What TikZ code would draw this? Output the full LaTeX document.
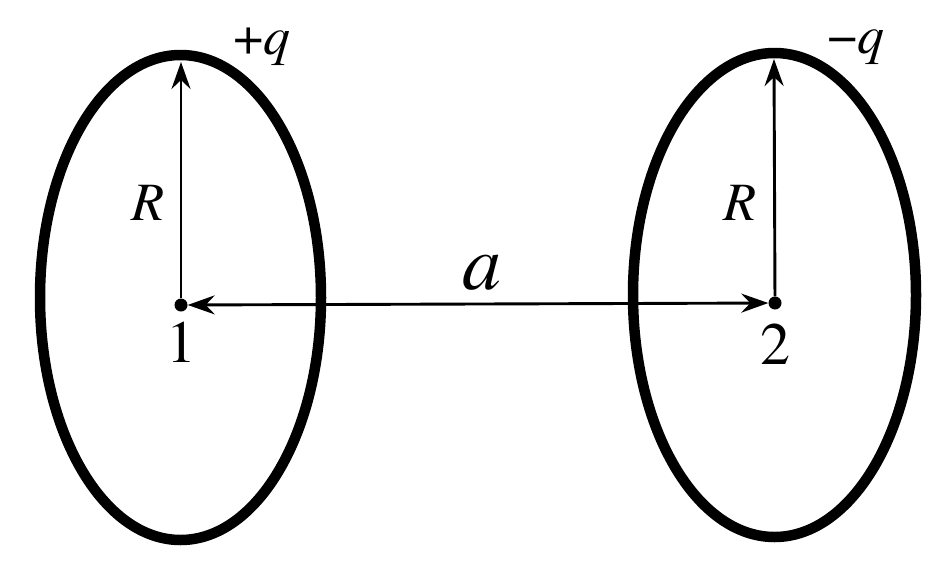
\documentclass[tikz,border=0pt]{standalone}
\usepackage{fontspec}
\setmainfont{texgyretermes}[Extension=.otf,UprightFont=*-regular,ItalicFont=*-italic,BoldFont=*-bold,BoldItalicFont=*-bolditalic]
\usetikzlibrary{arrows.meta}
\tikzset{
  ring/.style={line width=10.5pt},
  thin line/.style={line width=2.9pt},
  tip/.style={-{Stealth[length=27pt,width=19pt,inset=9pt]}},
  dot/.style={circle,fill=black,inner sep=0pt,minimum size=13pt},
  lbl/.style={inner sep=0pt,font=\fontsize{54}{64}\selectfont},
  num/.style={inner sep=0pt,font=\fontsize{60}{70}\selectfont},
}
\begin{document}
\begin{tikzpicture}[x=1pt,y=-1pt]
\useasboundingbox (0,0) rectangle (946,571);
% rings
\coordinate (c1) at (180.5,297.5);
\coordinate (c2) at (774.5,295);
\draw[ring] (c1) ellipse [x radius=140.5pt, y radius=242.5pt];
\draw[ring] (c2) ellipse [x radius=141.5pt, y radius=242pt];
% centres
\node[dot] (d1) at (181,305) {};
\node[dot] (d2) at (775,303) {};
\coordinate (t1) at (181,62);
\coordinate (t2) at (774,59);
% radii
\draw[thin line,tip] (d1) -- (t1);
\draw[thin line,tip] (d2) -- (t2);
% distance
\draw[thin line,{Stealth[length=27pt,width=19pt,inset=9pt]}-{Stealth[length=27pt,width=19pt,inset=9pt]}] (d1) -- (d2);
% labels
\node[lbl] (qp) at (262,47) {+\textit{q}};
\node[lbl] (qm) at (856,47) {\char"2212\textit{q}};
\node[lbl] (R1) at (148,203) {\textit{R}};
\node[lbl] (R2) at (740,203) {\textit{R}};
\node[inner sep=0pt,font=\fontsize{78}{86}\selectfont] (a) at (482,273) {\textit{a}};
\node[num] (n1) at (181,342) {1};
\node[num] (n2) at (775,344) {2};
\end{tikzpicture}
\end{document}
